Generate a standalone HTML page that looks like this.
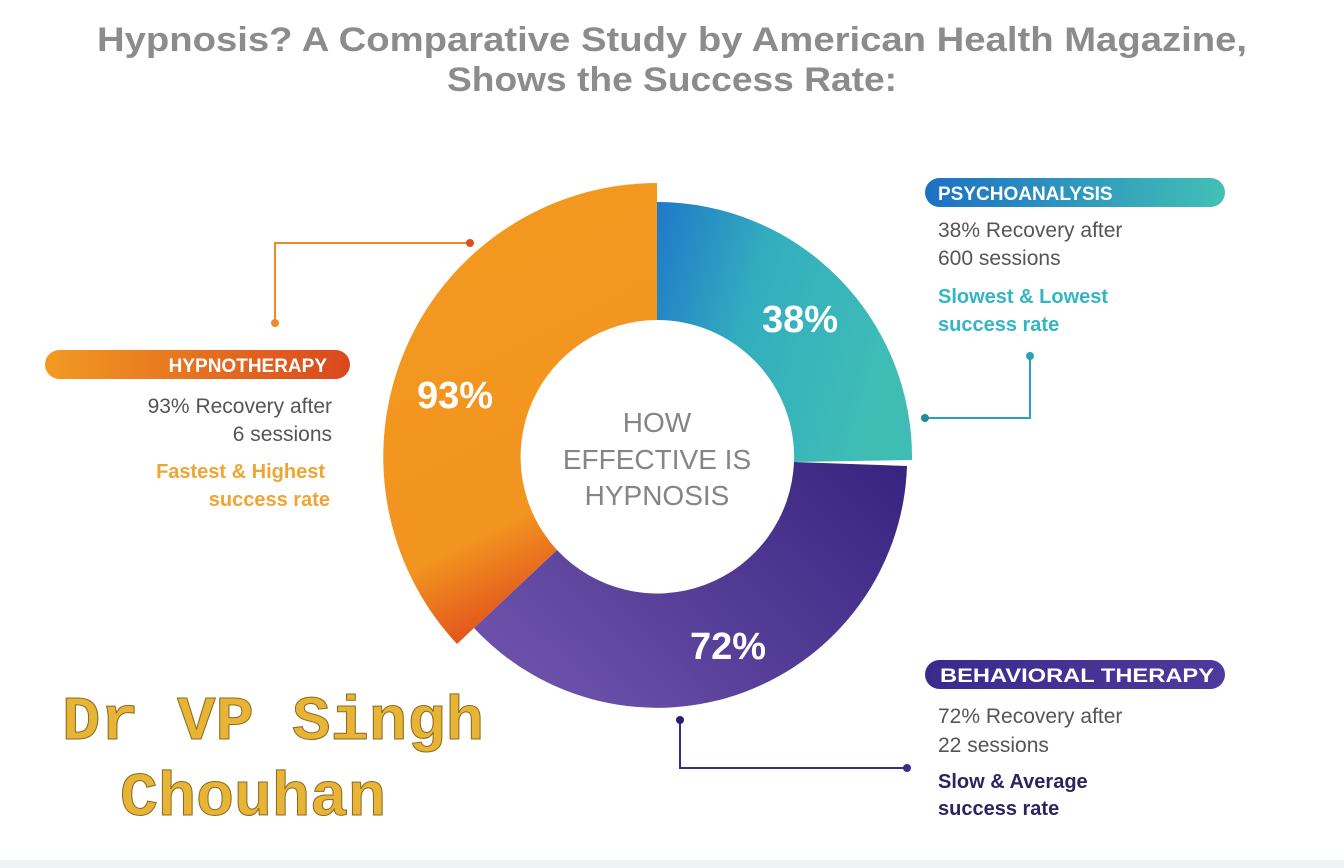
<!DOCTYPE html>
<html><head><meta charset="utf-8"><style>
html,body{margin:0;padding:0;background:#fff;}
svg{display:block;}
text{font-family:"Liberation Sans",sans-serif;}
</style></head><body>
<svg width="1344" height="868" viewBox="0 0 1344 868" xmlns="http://www.w3.org/2000/svg">
<defs>
<linearGradient id="gt" x1="0" y1="0" x2="1" y2="0.3"><stop offset="0" stop-color="#1f78c8"/><stop offset="0.45" stop-color="#33aebf"/><stop offset="1" stop-color="#3fbdb5"/></linearGradient>
<linearGradient id="gp" x1="1" y1="0" x2="0" y2="0.6"><stop offset="0" stop-color="#37237f"/><stop offset="1" stop-color="#6a50a8"/></linearGradient>
<linearGradient id="go" x1="0" y1="0" x2="0.3" y2="1"><stop offset="0" stop-color="#f39a1f"/><stop offset="0.8" stop-color="#f29420"/><stop offset="1" stop-color="#e2531c"/></linearGradient>
<linearGradient id="po" x1="0" y1="0" x2="1" y2="0"><stop offset="0" stop-color="#f29a22"/><stop offset="1" stop-color="#d9481e"/></linearGradient>
<linearGradient id="pt" x1="0" y1="0" x2="1" y2="0"><stop offset="0" stop-color="#1c70c4"/><stop offset="1" stop-color="#42c0b6"/></linearGradient>
<linearGradient id="pp" x1="0" y1="0" x2="1" y2="0"><stop offset="0" stop-color="#3b2a8e"/><stop offset="1" stop-color="#4d3a9c"/></linearGradient>
</defs>
<text x="672" y="51" text-anchor="middle" font-size="34" font-weight="bold" fill="#8c8c8c" textLength="1150" lengthAdjust="spacingAndGlyphs">Hypnosis? A Comparative Study by American Health Magazine,</text>
<text x="672" y="91" text-anchor="middle" font-size="34" font-weight="bold" fill="#8c8c8c" textLength="450" lengthAdjust="spacingAndGlyphs">Shows the Success Rate:</text>

<path d="M657,202 A255,255 0 0 1 912,460 L794,462 A137,137 0 0 0 657,320 Z" fill="url(#gt)"/>
<path d="M907,466 A250,250 0 0 1 474,628 L557,550 A137,137 0 0 0 794,462 Z" fill="url(#gp)"/>
<path d="M557,550 L457,644 A274,274 0 0 1 657,183 L657,320 A137,137 0 0 0 557,550 Z" fill="url(#go)"/>

<text x="455" y="408" text-anchor="middle" font-size="38" font-weight="bold" fill="#fff">93%</text>
<text x="800" y="332" text-anchor="middle" font-size="38" font-weight="bold" fill="#fff">38%</text>
<text x="728" y="659" text-anchor="middle" font-size="38" font-weight="bold" fill="#fff">72%</text>
<text x="657" y="432" text-anchor="middle" font-size="28" fill="#858585">HOW</text>
<text x="657" y="469" text-anchor="middle" font-size="28" fill="#858585">EFFECTIVE IS</text>
<text x="657" y="505" text-anchor="middle" font-size="28" fill="#858585">HYPNOSIS</text>

<polyline points="470,243 275,243 275,323" fill="none" stroke="#ee8a2a" stroke-width="2"/>
<circle cx="470" cy="243" r="4" fill="#e0501e"/><circle cx="275" cy="323" r="4" fill="#ee8a2a"/>
<polyline points="1030,356 1030,418 925,418" fill="none" stroke="#2aa3b8" stroke-width="2"/>
<circle cx="1030" cy="356" r="4" fill="#2aa3b8"/><circle cx="925" cy="418" r="4" fill="#1f8aa0"/>
<polyline points="680,720 680,768 907,768" fill="none" stroke="#3a2d86" stroke-width="2"/>
<circle cx="680" cy="720" r="4" fill="#2a2070"/><circle cx="907" cy="768" r="4" fill="#3a2d86"/>

<rect x="45" y="350" width="305" height="29" rx="14.5" fill="url(#po)"/>
<text x="327" y="372" text-anchor="end" font-size="19" font-weight="bold" fill="#fff">HYPNOTHERAPY</text>
<text x="332" y="413" text-anchor="end" font-size="21" fill="#555">93% Recovery after</text>
<text x="332" y="441" text-anchor="end" font-size="21" fill="#555">6 sessions</text>
<text x="325" y="478" text-anchor="end" font-size="20" font-weight="bold" fill="#f0a532">Fastest &amp; Highest</text>
<text x="330" y="506" text-anchor="end" font-size="20" font-weight="bold" fill="#f0a532">success rate</text>

<rect x="925" y="178" width="300" height="29" rx="14.5" fill="url(#pt)"/>
<text x="938" y="200" font-size="19" font-weight="bold" fill="#fff">PSYCHOANALYSIS</text>
<text x="938" y="237" font-size="21" fill="#555">38% Recovery after</text>
<text x="938" y="265" font-size="21" fill="#555">600 sessions</text>
<text x="938" y="303" font-size="20" font-weight="bold" fill="#33b5c5">Slowest &amp; Lowest</text>
<text x="938" y="331" font-size="20" font-weight="bold" fill="#33b5c5">success rate</text>

<rect x="925" y="660" width="300" height="29" rx="14.5" fill="url(#pp)"/>
<text x="940" y="682" font-size="19" font-weight="bold" fill="#fff" textLength="274" lengthAdjust="spacingAndGlyphs">BEHAVIORAL THERAPY</text>
<text x="938" y="723" font-size="21" fill="#555">72% Recovery after</text>
<text x="938" y="752" font-size="21" fill="#555">22 sessions</text>
<text x="938" y="788" font-size="20" font-weight="bold" fill="#2a2560">Slow &amp; Average</text>
<text x="938" y="815" font-size="20" font-weight="bold" fill="#2a2560">success rate</text>

<g font-size="62" font-weight="bold" fill="#e8b436" stroke="#8a6a20" stroke-width="1">
<text x="62" y="739" style="font-family:'Liberation Mono',monospace" textLength="422" lengthAdjust="spacingAndGlyphs">Dr VP Singh</text>
<text x="120" y="815" style="font-family:'Liberation Mono',monospace" textLength="266" lengthAdjust="spacingAndGlyphs">Chouhan</text>
</g>
<rect x="0" y="860" width="1344" height="8" fill="#eef4f4"/>
</svg>
</body></html>
